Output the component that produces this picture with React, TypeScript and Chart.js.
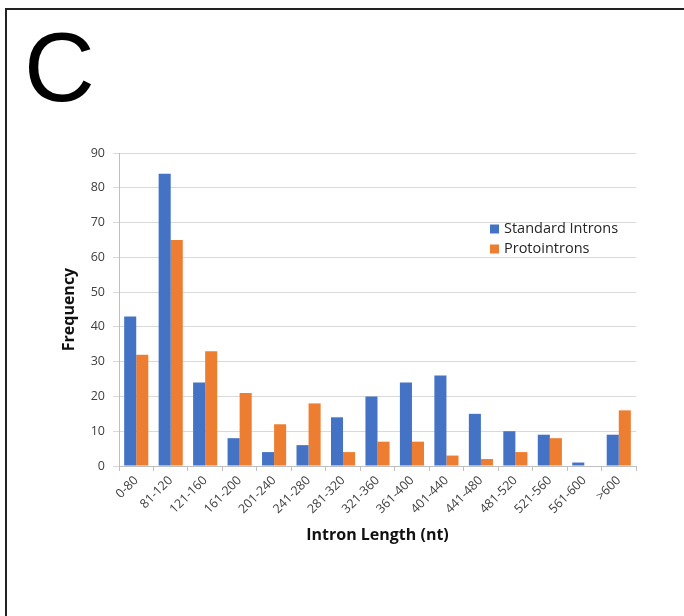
import React, { useEffect, useRef } from "react";
import { Chart, registerables } from "chart.js";

Chart.register(...registerables);

const categories = [
  "0-80", "81-120", "121-160", "161-200", "201-240", "241-280", "281-320",
  "321-360", "361-400", "401-440", "441-480", "481-520", "521-560", "561-600", ">600",
];
const standardIntrons = [43, 84, 24, 8, 4, 6, 14, 20, 24, 26, 15, 10, 9, 1, 9];
const protointrons = [32, 65, 33, 21, 12, 18, 4, 7, 7, 3, 2, 4, 8, 0, 16];
const seriesNames = ["Standard Introns", "Protointrons"];
const seriesColors = ["#4472C4", "#ED7D31"];

const FONT = "'Open Sans', 'Liberation Sans', sans-serif";

const legendPlugin = {
  id: "customLegend",
  afterDraw(chart: any) {
    const ctx = chart.ctx;
    const x0 = 490;
    const ys = [229, 249];
    ctx.save();
    chart.data.datasets.forEach((ds: any, i: number) => {
      ctx.fillStyle = ds.backgroundColor;
      ctx.fillRect(x0, ys[i] - 4.5, 9, 9);
      ctx.fillStyle = "#262626";
      ctx.font = `14.5px ${FONT}`;
      ctx.textBaseline = "middle";
      ctx.textAlign = "left";
      ctx.fillText(ds.label, x0 + 14, ys[i]);
    });
    ctx.restore();
  },
};

export default function App() {
  const ref = useRef<HTMLCanvasElement | null>(null);

  useEffect(() => {
    document.body.style.margin = "0";
    const chart = new Chart(ref.current!, {
      type: "bar",
      data: {
        labels: categories,
        datasets: [
          { label: seriesNames[0], data: standardIntrons, backgroundColor: seriesColors[0] },
          { label: seriesNames[1], data: protointrons, backgroundColor: seriesColors[1] },
        ],
      },
      options: {
        responsive: false,
        animation: false,
        devicePixelRatio: 1,
        datasets: { bar: { categoryPercentage: 0.7, barPercentage: 1 } },
        layout: { padding: { left: 56, top: 153, right: 48, bottom: 67 } },
        plugins: { legend: { display: false }, tooltip: { enabled: false } },
        scales: {
          x: {
            afterFit: (s: any) => { s.height = 83; },
            grid: { drawOnChartArea: false, drawTicks: true, tickLength: 5, offset: true, color: "#bfbfbf" },
            border: { color: "#bfbfbf" },
            ticks: {
              maxRotation: 45, minRotation: 45, autoSkip: false, padding: 2,
              color: "#404040", font: { family: FONT, size: 12.5 },
            },
            title: {
              display: true, text: "Intron Length (nt)", color: "#111",
              font: { family: FONT, size: 16, weight: "bold" }, padding: 4,
            },
          },
          y: {
            min: 0, max: 90,
            afterFit: (s: any) => { s.width = 63; },
            grid: { color: "#d9d9d9", tickLength: 6, drawTicks: true },
            border: { color: "#bfbfbf" },
            ticks: { stepSize: 10, padding: 8, color: "#404040", font: { family: FONT, size: 12.5 } },
            title: {
              display: true, text: "Frequency", color: "#111",
              font: { family: FONT, size: 16, weight: "bold" }, padding: 4,
            },
          },
        },
      },
      plugins: [legendPlugin],
    });
    return () => chart.destroy();
  }, []);

  return (
    <div style={{ position: "fixed", left: 0, top: 0, width: 684, height: 616, background: "#fff" }}>
      <div style={{ position: "absolute", left: 5, top: 8, right: 0, bottom: 0, borderTop: "2px solid #222", borderLeft: "2px solid #222" }} />
      <div style={{ position: "absolute", left: 24, top: 18, fontFamily: "'Liberation Sans', Arial, sans-serif", fontSize: 98, lineHeight: 1, color: "#000" }}>C</div>
      <canvas ref={ref} width={684} height={616} style={{ position: "absolute", left: 0, top: 0 }} />
    </div>
  );
}
